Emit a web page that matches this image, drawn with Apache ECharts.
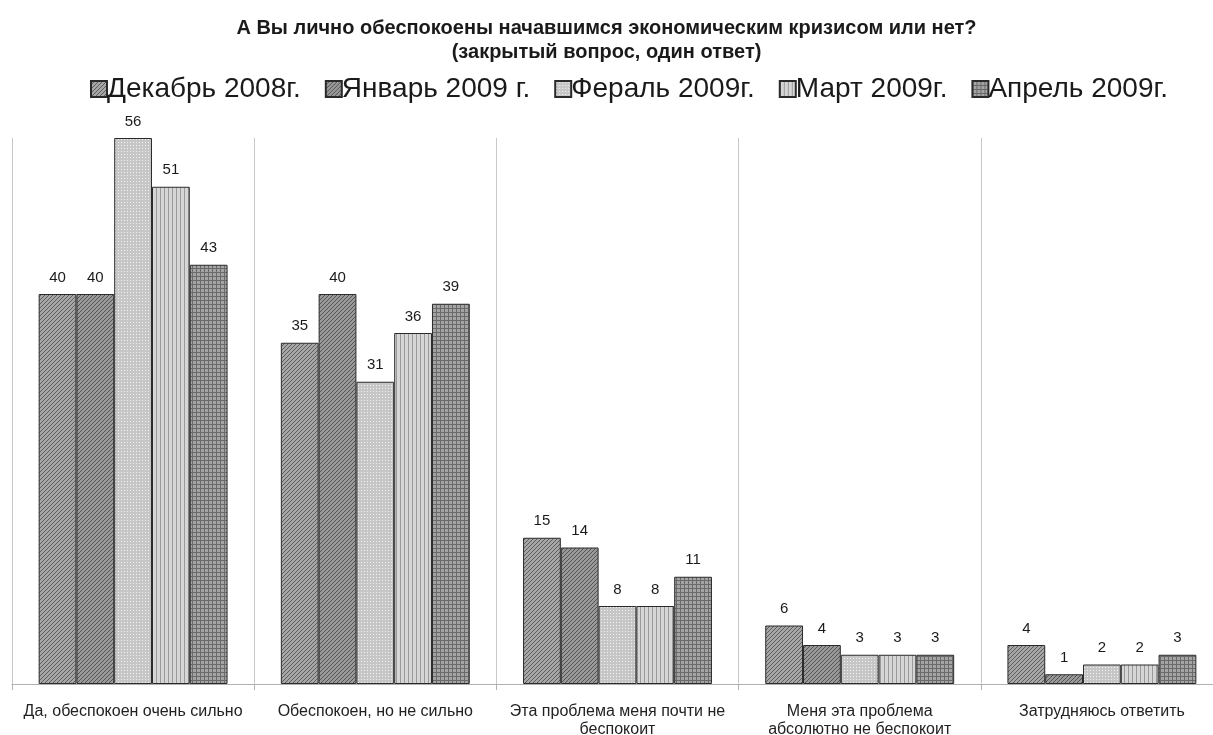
<!DOCTYPE html>
<html><head><meta charset="utf-8">
<script src="https://cdn.jsdelivr.net/npm/echarts@6/dist/echarts.min.js"></script>
<style>html,body{margin:0;padding:0;background:#fff;overflow:hidden}#c{width:1213px;height:735px}</style>
</head><body><div id="c"></div>
<script>
const titleText = 'А Вы лично обеспокоены начавшимся экономическим кризисом или нет?\n(закрытый вопрос, один ответ)';
const categories = ['Да, обеспокоен очень сильно', 'Обеспокоен, но не сильно', 'Эта проблема меня почти не\nбеспокоит', 'Меня эта проблема\nабсолютно не беспокоит', 'Затрудняюсь ответить'];
const seriesNames = ['Декабрь 2008г.', 'Январь 2009 г.', 'Фераль 2009г.', 'Март 2009г.', 'Апрель 2009г.'];
const dec2008 = [40, 35, 15, 6, 4];
const jan2009 = [40, 40, 14, 4, 1];
const feb2009 = [56, 31, 8, 3, 2];
const mar2009 = [51, 36, 8, 3, 2];
const apr2009 = [43, 39, 11, 3, 3];
const seriesValues = [dec2008, jan2009, feb2009, mar2009, apr2009];

function makePattern(kind) {
  const c = document.createElement('canvas');
  const s = kind === 'dots' ? 3 : 4;
  c.width = s; c.height = s;
  const g = c.getContext('2d');
  if (kind === 'diag1' || kind === 'diag2') {
    g.fillStyle = kind === 'diag1' ? '#a6a6a6' : '#999999';
    g.fillRect(0, 0, s, s);
    g.strokeStyle = kind === 'diag1' ? '#5e5e5e' : '#545454';
    g.lineWidth = 1;
    g.beginPath();
    g.moveTo(0, s); g.lineTo(s, 0);
    g.moveTo(-1, 1); g.lineTo(1, -1);
    g.moveTo(s - 1, s + 1); g.lineTo(s + 1, s - 1);
    g.stroke();
  } else if (kind === 'dots') {
    g.fillStyle = '#c6c6c6';
    g.fillRect(0, 0, s, s);
    g.fillStyle = '#f2f2f2';
    g.fillRect(1, 1, 1, 1);
  } else if (kind === 'vert') {
    g.fillStyle = '#d6d6d6';
    g.fillRect(0, 0, s, s);
    g.fillStyle = '#9a9a9a';
    g.fillRect(0, 0, 1, s);
  } else if (kind === 'grid') {
    g.fillStyle = '#a4a4a4';
    g.fillRect(0, 0, s, s);
    g.fillStyle = '#6a6a6a';
    g.fillRect(0, 0, 1, s);
    g.fillRect(0, 0, s, 1);
  }
  return c;
}
const patterns = ['diag1', 'diag2', 'dots', 'vert', 'grid'].map(k => ({ image: makePattern(k), repeat: 'repeat' }));

const chart = echarts.init(document.getElementById('c'), null, { renderer: 'canvas' });
chart.setOption({
  animation: false,
  backgroundColor: '#fff',
  title: {
    text: titleText, left: 'center', top: 11,
    textStyle: { fontFamily: 'Liberation Sans, Arial', fontSize: 20, fontWeight: 'bold', color: '#1a1a1a', lineHeight: 24 }
  },
  legend: {
    top: 70, left: 85, icon: 'rect', itemWidth: 16, itemHeight: 16, itemGap: 24,
    textStyle: { fontFamily: 'Liberation Sans, Arial', fontSize: 28, color: '#1a1a1a', padding: [0, 0, 0, -5] },
    data: seriesNames
  },
  grid: { left: 12, right: -10, top: 138, bottom: 51, containLabel: false, outerBoundsMode: 'none' },
  xAxis: {
    type: 'category', data: categories,
    axisLine: { lineStyle: { color: '#b0b0b0', width: 1 } },
    axisTick: { show: true, length: 6, lineStyle: { color: '#b0b0b0' } },
    splitLine: { show: true, lineStyle: { color: '#c8c8c8', width: 1 } },
    axisLabel: { fontFamily: 'Liberation Sans, Arial', fontSize: 16, color: '#222', lineHeight: 18, margin: 19, interval: 0 }
  },
  yAxis: { type: 'value', min: 0, max: 56, show: false, splitLine: { show: false } },
  series: seriesValues.map((vals, i) => ({
    name: seriesNames[i], type: 'bar', data: vals,
    barGap: '0%', barCategoryGap: '22%',
    itemStyle: { color: patterns[i], borderColor: '#2a2a2a', borderWidth: 1 },
    label: { show: true, position: 'top', distance: 9, fontFamily: 'Liberation Sans, Arial', fontSize: 15, color: '#1a1a1a' }
  }))
});
</script></body></html>
